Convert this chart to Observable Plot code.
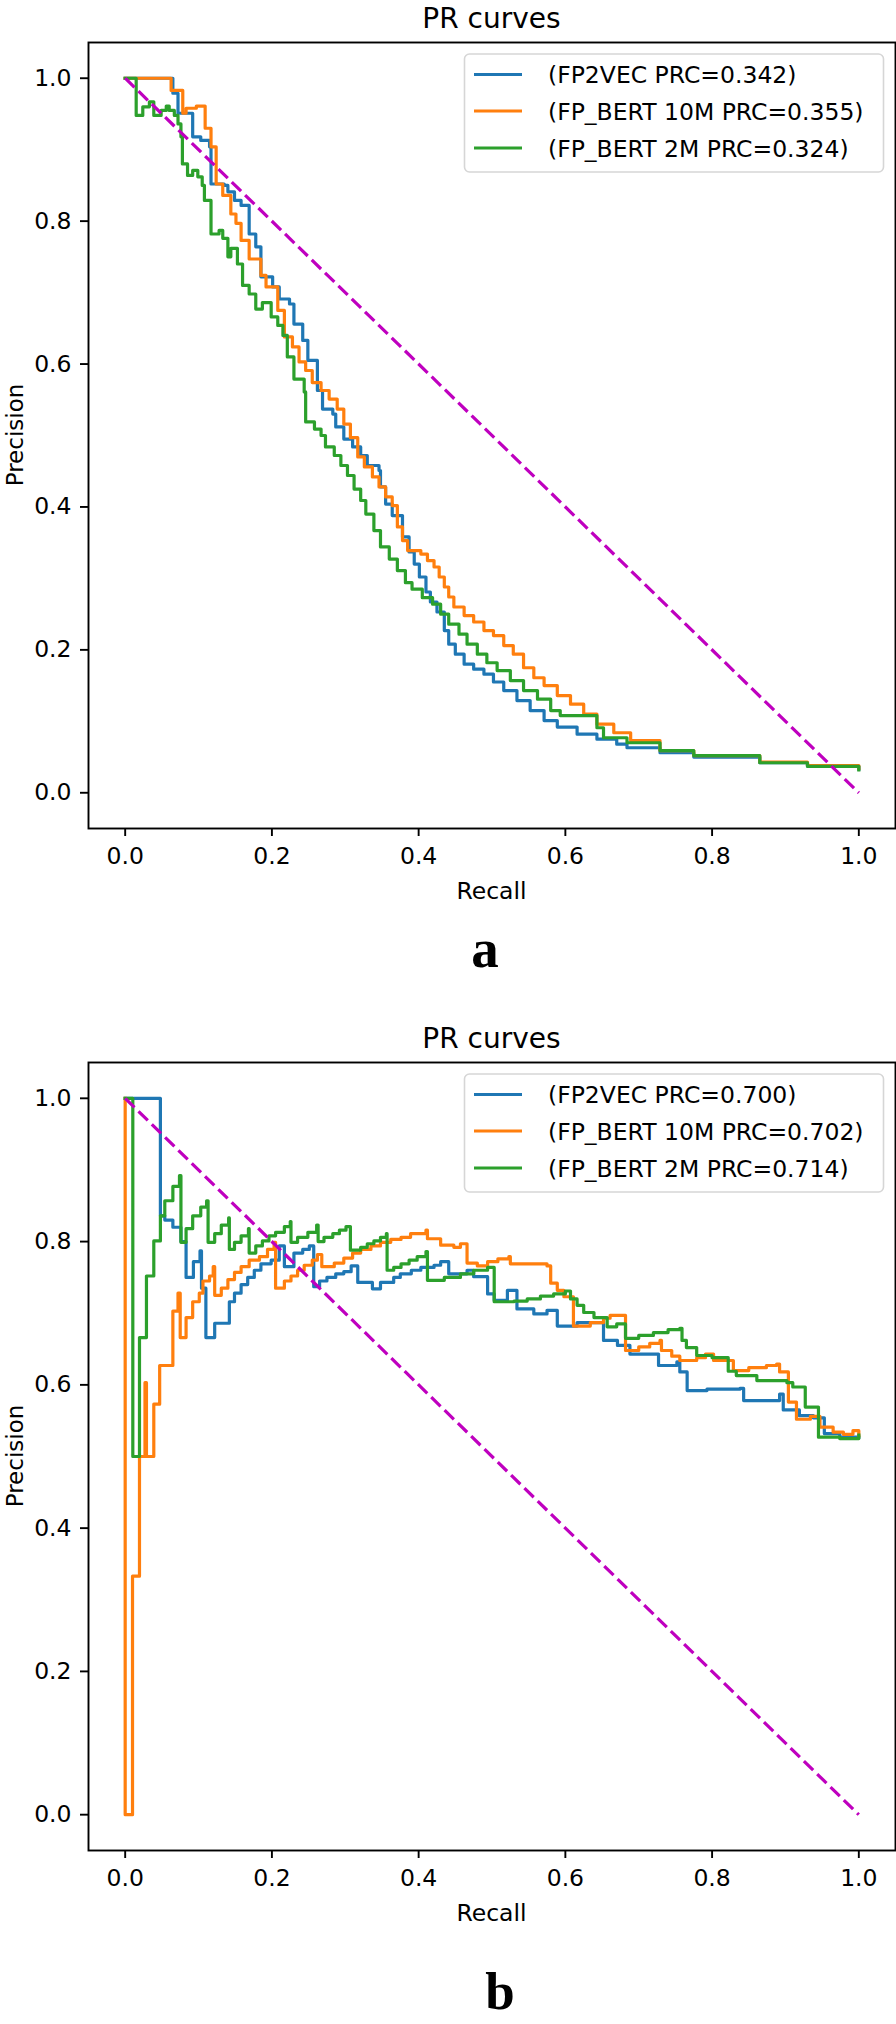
<!DOCTYPE html>
<html>
<head>
<meta charset="utf-8">
<script src="https://cdn.jsdelivr.net/npm/d3@7"></script>
<script src="https://cdn.jsdelivr.net/npm/@observablehq/plot@0.6"></script>
<style>
  html, body { margin: 0; padding: 0; background: #ffffff; }
  #page { position: relative; width: 896px; height: 2024px; overflow: hidden; background: #fff; }
  #page > svg { position: absolute; left: 0; }
</style>
</head>
<body>
<div id="page"></div>
<script>
// ---------------- data ----------------
const xTicks = [0, 0.2, 0.4, 0.6, 0.8, 1.0];
const yTicks = [0, 0.2, 0.4, 0.6, 0.8, 1.0];
const seriesNames = ["FP2VEC", "FP_BERT 10M", "FP_BERT 2M"];
const seriesColors = ["#1f77b4", "#ff7f0e", "#2ca02c"];
const prcA = ["0.342", "0.355", "0.324"];
const prcB = ["0.700", "0.702", "0.714"];
const chanceRecall = [0, 1];
const chancePrecision = [1, 0];
const panelTitle = "PR curves";
const xLabel = "Recall";
const yLabel = "Precision";
const panelLetters = ["a", "b"];

// panel a  — [recall, precision]
const aFP2VEC = [[0,1.0],[0.065,0.979],[0.072,0.951],[0.092,0.918],[0.103,0.913],[0.115,0.904],[0.117,0.852],[0.135,0.850],[0.140,0.841],[0.149,0.829],[0.158,0.822],[0.169,0.782],[0.178,0.764],[0.185,0.722],[0.201,0.708],[0.210,0.691],[0.224,0.684],[0.230,0.656],[0.242,0.633],[0.249,0.605],[0.262,0.563],[0.269,0.537],[0.283,0.530],[0.287,0.512],[0.298,0.495],[0.310,0.484],[0.321,0.472],[0.330,0.458],[0.346,0.451],[0.348,0.428],[0.355,0.404],[0.364,0.388],[0.378,0.358],[0.387,0.337],[0.394,0.320],[0.401,0.302],[0.410,0.281],[0.416,0.267],[0.425,0.253],[0.435,0.227],[0.441,0.208],[0.450,0.194],[0.462,0.180],[0.475,0.173],[0.489,0.166],[0.502,0.155],[0.516,0.143],[0.534,0.129],[0.552,0.115],[0.571,0.101],[0.589,0.092],[0.616,0.082],[0.643,0.075],[0.670,0.068],[0.684,0.063],[0.729,0.056],[0.775,0.050],[0.865,0.042],[0.930,0.037],[1.0,0.033]];
const aBERT10M = [[0,1.0],[0.0626,0.983],[0.0785,0.951],[0.083,0.958],[0.097,0.961],[0.109,0.930],[0.117,0.904],[0.124,0.852],[0.133,0.836],[0.144,0.810],[0.151,0.797],[0.158,0.773],[0.169,0.747],[0.185,0.724],[0.192,0.708],[0.208,0.675],[0.217,0.638],[0.228,0.624],[0.237,0.603],[0.246,0.591],[0.255,0.574],[0.267,0.563],[0.278,0.551],[0.289,0.537],[0.298,0.516],[0.307,0.497],[0.317,0.470],[0.326,0.456],[0.337,0.442],[0.346,0.428],[0.355,0.414],[0.364,0.402],[0.371,0.372],[0.378,0.353],[0.385,0.339],[0.403,0.334],[0.412,0.325],[0.421,0.316],[0.428,0.302],[0.435,0.288],[0.441,0.274],[0.448,0.260],[0.462,0.248],[0.475,0.239],[0.489,0.227],[0.502,0.220],[0.516,0.206],[0.529,0.194],[0.543,0.175],[0.557,0.161],[0.571,0.150],[0.589,0.136],[0.607,0.124],[0.625,0.110],[0.643,0.096],[0.666,0.084],[0.689,0.073],[0.729,0.059],[0.775,0.052],[0.865,0.043],[0.930,0.038],[1.0,0.034]];
const aBERT2M = [[0,1.0],[0.015,0.948],[0.024,0.960],[0.033,0.967],[0.039,0.948],[0.049,0.955],[0.056,0.961],[0.060,0.955],[0.067,0.948],[0.072,0.936],[0.076,0.918],[0.078,0.880],[0.085,0.864],[0.092,0.871],[0.099,0.862],[0.105,0.850],[0.108,0.829],[0.117,0.782],[0.128,0.787],[0.133,0.776],[0.140,0.750],[0.144,0.762],[0.153,0.740],[0.160,0.710],[0.169,0.698],[0.178,0.677],[0.187,0.686],[0.199,0.666],[0.208,0.654],[0.215,0.640],[0.221,0.610],[0.230,0.579],[0.244,0.561],[0.246,0.519],[0.258,0.509],[0.267,0.500],[0.273,0.484],[0.285,0.472],[0.294,0.458],[0.303,0.444],[0.312,0.425],[0.321,0.409],[0.328,0.390],[0.339,0.367],[0.348,0.344],[0.360,0.327],[0.371,0.311],[0.382,0.294],[0.391,0.285],[0.405,0.273],[0.419,0.264],[0.430,0.250],[0.441,0.236],[0.455,0.222],[0.466,0.208],[0.480,0.194],[0.493,0.182],[0.507,0.171],[0.525,0.157],[0.543,0.143],[0.562,0.131],[0.580,0.115],[0.593,0.108],[0.643,0.091],[0.652,0.077],[0.684,0.070],[0.729,0.059],[0.775,0.052],[0.865,0.042],[0.930,0.037],[1.0,0.032]];

// panel b  — [recall, precision]
const bFP2VEC = [[0,1.0],[0.048,0.836],[0.054,0.830],[0.065,0.820],[0.076,0.800],[0.083,0.750],[0.093,0.772],[0.102,0.787],[0.104,0.735],[0.110,0.666],[0.122,0.686],[0.142,0.716],[0.149,0.728],[0.158,0.740],[0.167,0.750],[0.176,0.760],[0.185,0.769],[0.199,0.774],[0.210,0.794],[0.217,0.765],[0.230,0.784],[0.242,0.789],[0.251,0.794],[0.257,0.737],[0.265,0.745],[0.275,0.750],[0.287,0.755],[0.298,0.758],[0.308,0.766],[0.317,0.743],[0.337,0.734],[0.348,0.743],[0.366,0.750],[0.375,0.755],[0.390,0.760],[0.403,0.764],[0.421,0.767],[0.430,0.772],[0.441,0.755],[0.466,0.760],[0.475,0.751],[0.494,0.727],[0.503,0.718],[0.521,0.732],[0.534,0.706],[0.557,0.699],[0.575,0.704],[0.589,0.682],[0.616,0.687],[0.652,0.662],[0.671,0.655],[0.688,0.643],[0.727,0.627],[0.752,0.632],[0.756,0.618],[0.766,0.592],[0.793,0.594],[0.838,0.595],[0.843,0.578],[0.892,0.587],[0.897,0.565],[0.919,0.557],[0.938,0.554],[0.953,0.532],[0.974,0.527],[1.0,0.527]];
const bBERT10M = [[0,1.0],[0,0.0],[0.010,0.333],[0.0195,0.500],[0.027,0.603],[0.029,0.500],[0.039,0.573],[0.047,0.627],[0.065,0.703],[0.072,0.728],[0.075,0.666],[0.083,0.694],[0.092,0.716],[0.101,0.728],[0.106,0.745],[0.115,0.752],[0.120,0.765],[0.122,0.725],[0.131,0.735],[0.140,0.747],[0.149,0.757],[0.158,0.765],[0.169,0.774],[0.183,0.779],[0.194,0.789],[0.203,0.799],[0.205,0.735],[0.217,0.745],[0.226,0.752],[0.235,0.760],[0.244,0.767],[0.255,0.774],[0.262,0.782],[0.268,0.765],[0.285,0.770],[0.298,0.777],[0.310,0.784],[0.321,0.789],[0.335,0.794],[0.348,0.799],[0.362,0.803],[0.376,0.806],[0.389,0.811],[0.410,0.816],[0.412,0.804],[0.430,0.795],[0.448,0.792],[0.457,0.797],[0.466,0.770],[0.480,0.766],[0.494,0.772],[0.508,0.776],[0.523,0.779],[0.525,0.769],[0.575,0.766],[0.580,0.742],[0.589,0.732],[0.598,0.723],[0.611,0.682],[0.634,0.687],[0.652,0.693],[0.661,0.697],[0.682,0.648],[0.700,0.653],[0.715,0.658],[0.729,0.662],[0.731,0.648],[0.745,0.640],[0.756,0.634],[0.779,0.638],[0.791,0.643],[0.802,0.634],[0.829,0.620],[0.850,0.624],[0.874,0.627],[0.888,0.629],[0.892,0.618],[0.904,0.576],[0.915,0.552],[0.934,0.556],[0.947,0.541],[0.965,0.534],[0.979,0.531],[0.992,0.536],[1.0,0.529]];
const bBERT2M = [[0,1.0],[0.0104,0.500],[0.0195,0.666],[0.029,0.752],[0.039,0.801],[0.048,0.836],[0.054,0.857],[0.065,0.877],[0.074,0.892],[0.076,0.799],[0.083,0.818],[0.092,0.836],[0.103,0.848],[0.111,0.857],[0.113,0.799],[0.122,0.811],[0.131,0.823],[0.141,0.833],[0.142,0.789],[0.149,0.799],[0.158,0.808],[0.168,0.818],[0.169,0.784],[0.178,0.794],[0.187,0.801],[0.196,0.808],[0.205,0.813],[0.217,0.821],[0.225,0.828],[0.226,0.799],[0.235,0.806],[0.249,0.813],[0.261,0.823],[0.263,0.800],[0.271,0.806],[0.283,0.811],[0.292,0.816],[0.301,0.821],[0.307,0.788],[0.321,0.792],[0.330,0.797],[0.339,0.801],[0.348,0.806],[0.356,0.811],[0.357,0.760],[0.366,0.764],[0.376,0.769],[0.387,0.774],[0.398,0.779],[0.410,0.786],[0.412,0.746],[0.435,0.750],[0.457,0.755],[0.475,0.760],[0.494,0.764],[0.503,0.716],[0.530,0.717],[0.548,0.720],[0.566,0.724],[0.584,0.727],[0.600,0.731],[0.607,0.720],[0.616,0.711],[0.625,0.701],[0.639,0.694],[0.657,0.681],[0.670,0.685],[0.682,0.665],[0.700,0.669],[0.720,0.673],[0.740,0.677],[0.756,0.679],[0.759,0.662],[0.765,0.652],[0.779,0.641],[0.800,0.638],[0.822,0.619],[0.833,0.613],[0.861,0.606],[0.902,0.603],[0.910,0.597],[0.927,0.569],[0.945,0.527],[0.974,0.525],[1.0,0.530]];

const panelSeries = [[aFP2VEC, aBERT10M, aBERT2M], [bFP2VEC, bBERT10M, bBERT2M]];
const panelPrc = [prcA, prcB];

// ---------------- layout ----------------
const W = 896;
const FONT = "DejaVu Sans";
const fs = 23.5;           // 10 pt
const titleFs = 28;        // 12 pt
const lw = 3.2;
const panels = [
  {top: 0,    mTop: 42, frameH: 786, letterX: 485, letterBase: 967, letterFs: 55},
  {top: 1020, mTop: 42, frameH: 788, letterX: 500, letterBase: 2009, letterFs: 53}
];
const mLeft = 88, mRight = 1, mBottom = 48;

const page = document.getElementById("page");

panels.forEach((P, k) => {
  const series = panelSeries[k];
  const chance = chanceRecall.map((r, i) => ({r, p: chancePrecision[i]}));
  const marks = [
    Plot.frame({stroke: "#000", strokeWidth: 1.9}),
    Plot.axisX({ticks: xTicks, tickFormat: d => d.toFixed(1), tickSize: 8, tickPadding: 11,
                strokeWidth: 1.9, stroke: "#000", fill: "#000", fontSize: fs, label: null}),
    Plot.axisY({ticks: yTicks, tickFormat: d => d.toFixed(1), tickSize: 8, tickPadding: 9,
                strokeWidth: 1.9, stroke: "#000", fill: "#000", fontSize: fs, label: null}),
    ...series.map((s, i) => Plot.line(s, {
      x: d => d[0], y: d => d[1], curve: "step-after",
      stroke: seriesColors[i], strokeWidth: lw, strokeLinejoin: "round", strokeLinecap: "square"
    })),
    Plot.line(chance, {x: "r", y: "p", stroke: "#bf00bf", strokeWidth: lw,
                       strokeDasharray: "13,5.6", strokeLinecap: "butt"})
  ];
  const svg = Plot.plot({
    width: W,
    height: P.mTop + P.frameH + mBottom,
    marginTop: P.mTop, marginBottom: mBottom, marginLeft: mLeft, marginRight: mRight,
    x: {domain: [-0.05, 1.05]},
    y: {domain: [-0.05, 1.05]},
    style: {fontFamily: FONT, fontSize: fs + "px", color: "#000", background: "transparent", overflow: "visible"},
    marks
  });
  svg.style.top = P.top + "px";
  page.appendChild(svg);
});

// ---------------- titles, labels, legends ----------------
const ov = d3.create("svg")
  .attr("width", W).attr("height", 2024)
  .style("position", "absolute").style("top", "0px").style("left", "0px")
  .style("pointer-events", "none")
  .attr("font-family", FONT);

const frameL = mLeft, frameR = W - mRight, frameCX = (frameL + frameR) / 2;

panels.forEach((P, k) => {
  const fTop = P.top + P.mTop, fBot = fTop + P.frameH;
  // title
  ov.append("text").attr("x", frameCX).attr("y", fTop - 14.5)
    .attr("text-anchor", "middle").attr("font-size", titleFs).attr("fill", "#000").text(panelTitle);
  // x label
  ov.append("text").attr("x", frameCX).attr("y", fBot + 70.5)
    .attr("text-anchor", "middle").attr("font-size", fs).attr("fill", "#000").text(xLabel);
  // y label
  ov.append("text").attr("transform", `translate(22.5,${(fTop + fBot) / 2}) rotate(-90)`)
    .attr("text-anchor", "middle").attr("font-size", 23).attr("fill", "#000").text(yLabel);
  // panel letter
  ov.append("text").attr("x", P.letterX).attr("y", P.letterBase)
    .attr("text-anchor", "middle").attr("font-family", "Liberation Serif").attr("font-weight", "bold")
    .attr("font-size", P.letterFs).attr("fill", "#000").text(panelLetters[k]);
  // legend
  const lg = ov.append("g");
  lg.append("rect").attr("x", 464.5).attr("y", fTop + 12).attr("width", 419).attr("height", 118)
    .attr("rx", 5).attr("ry", 5).attr("fill", "#fff").attr("fill-opacity", 0.8)
    .attr("stroke", "#d6d6d6").attr("stroke-width", 1.6);
  const rows = [32.5, 69, 106];
  seriesNames.forEach((name, i) => {
    const yy = fTop + rows[i];
    lg.append("line").attr("x1", 474).attr("x2", 522).attr("y1", yy).attr("y2", yy)
      .attr("stroke", seriesColors[i]).attr("stroke-width", lw);
    lg.append("text").attr("x", 548).attr("y", yy + 8.5).attr("font-size", fs).attr("fill", "#000")
      .text(`(${name} PRC=${panelPrc[k][i]})`);
  });
});

page.appendChild(ov.node());
</script>
</body>
</html>
